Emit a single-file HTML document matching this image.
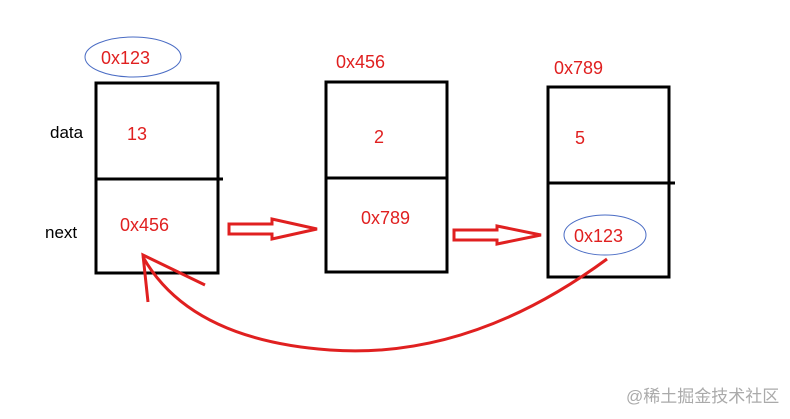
<!DOCTYPE html>
<html><head><style>body{margin:0;background:#fff}</style></head><body>
<svg width="790" height="414" xmlns="http://www.w3.org/2000/svg" font-family="Liberation Sans, sans-serif">
<rect width="790" height="414" fill="#fff"/>
<g fill="none" stroke="#000" stroke-width="3">
<rect x="96" y="83" width="122" height="190"/>
<line x1="96" y1="179" x2="223" y2="179"/>
<rect x="326" y="82" width="121" height="190"/>
<line x1="326" y1="178" x2="447" y2="178"/>
<rect x="548" y="87" width="121" height="190"/>
<line x1="548" y1="183" x2="675" y2="183"/>
</g>
<ellipse cx="133" cy="57" rx="48" ry="20" fill="none" stroke="#4a6cc4" stroke-width="1"/>
<ellipse cx="605" cy="235" rx="41" ry="20" fill="none" stroke="#4a6cc4" stroke-width="1"/>
<g fill="none" stroke="#e02020" stroke-width="3">
<path d="M229 224 L272 224 L272 219 L317 229 L272 239 L272 234 L229 234 Z"/>
<path d="M454 230 L497 230 L497 226 L541 235 L497 244 L497 240 L454 240 Z"/>
<path d="M607 259 Q470 360 330 350 Q190 340 143 257"/>
<path d="M205 285 L143 255 L148 302"/>
</g>
<g fill="#e02020" font-size="18">
<text x="101" y="64">0x123</text>
<text x="336" y="68">0x456</text>
<text x="554" y="74">0x789</text>
<text x="127" y="140">13</text>
<text x="374" y="143">2</text>
<text x="575" y="144">5</text>
<text x="120" y="231">0x456</text>
<text x="361" y="224">0x789</text>
<text x="574" y="242">0x123</text>
</g>
<g fill="#000" font-size="17">
<text x="50" y="138">data</text>
<text x="45" y="238">next</text>
</g>
<text x="626" y="402" fill="#aaa" font-size="17" font-family="Liberation Sans, Noto Sans CJK SC, sans-serif">@稀土掘金技术社区</text>
</svg>
</body></html>
